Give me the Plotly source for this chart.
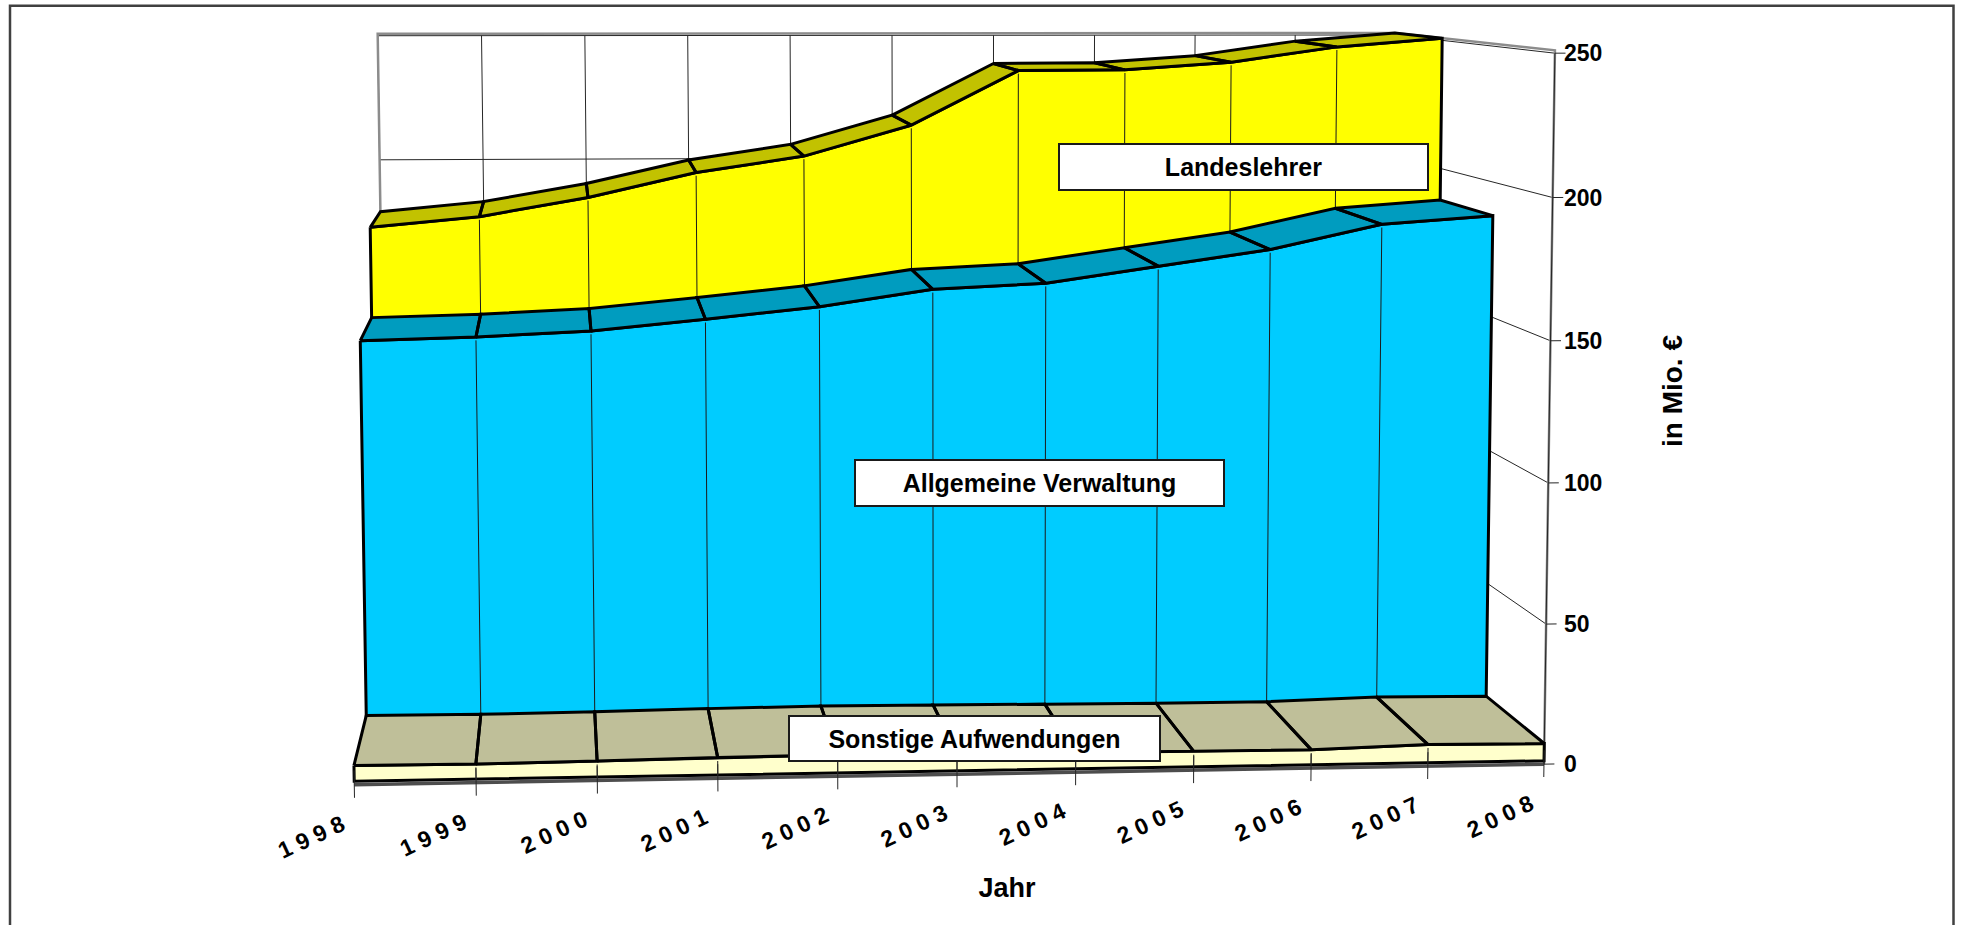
import numpy as np
import plotly.graph_objects as go

# ---- data (Mio. EUR) ----
years = [1998, 1999, 2000, 2001, 2002, 2003, 2004, 2005, 2006, 2007, 2008]
sonstige = [6.7, 6.5, 6.8, 7.3, 7.6, 7.3, 7.0, 6.7, 6.6, 7.7, 7.4]
verwaltung = [144.3, 145.3, 147.2, 151.2, 155.5, 161.6, 163.6, 169.6, 175.5, 184.6, 187.6]
landeslehrer = [179.0, 182.9, 190.1, 199.5, 205.7, 217.5, 238.5, 238.7, 241.6, 247.5, 250.8]
value_ticks = [0, 50, 100, 150, 200, 250]

# ---- 3-D view of the chart box: (year index, depth row, value) -> page pixels ----
CAMERA = np.array([
    [1.2311535e+02, 3.5799904e+01, -7.3549680e-02, 3.5427243e+02],
    [4.4771031e-03, -3.8727393e+00, -2.9243144e+00, 7.8463067e+02],
    [2.6847161e-03, 6.4211055e-02, -7.6133452e-05, 1.0],
])
W, H = 1961, 925
ML, MR, MT, MB = 60, 7, 0, 75


def to_x(px):
    return 1998 + (px - 353) / 119.05


def to_y(py):
    return (764 - py) / 2.84


def project(i, d, v):
    h = CAMERA @ np.array([i, d, v, 1.0])
    return to_x(h[0] / h[2]), to_y(h[1] / h[2])


def path(points):
    xs, ys = [], []
    for p in points:
        if p is None:
            xs.append(None)
            ys.append(None)
        else:
            x, y = project(*p)
            xs.append(x)
            ys.append(y)
    return xs, ys


fig = go.Figure()
N = len(years)
LAST = N - 1


def line(points, color, width, name=""):
    xs, ys = path(points)
    fig.add_trace(go.Scatter(x=xs, y=ys, mode="lines", line=dict(color=color, width=width),
                             hoverinfo="skip", showlegend=False, name=name))


def poly(points, fill, width, name=""):
    xs, ys = path(points)
    fig.add_trace(go.Scatter(x=xs, y=ys, mode="lines", fill="toself", fillcolor=fill,
                             line=dict(color="black", width=width), hoverinfo="skip",
                             showlegend=False, name=name))


# walls
GRID = "#262626"
pts = []
for i in range(N):
    pts += [(i, 3, 0), (i, 3, 250), None]
for v in value_ticks[1:]:
    pts += [(0, 3, v), (LAST, 3, v), (LAST, 0, v), None]
line(pts, GRID, 1, "Gitternetz")
line([(0, 3, 0), (0, 3, 250.8), (LAST, 3, 250.8), (LAST, 0, 251), (LAST, 0, 0)], "#8c8c8c", 2.5, "Wand")
line([(LAST, 0, 0), (LAST, 0, 250)], "#262626", 1, "Achse")
line([(0, 0, 0), (LAST, 0, 0)], "#4d4d4d", 3.5, "Boden")


def series(values, d, face, top, name, base):
    # top band, made of one quad per year step
    pts = []
    for i in range(N - 1):
        pts += [(i, d, values[i]), (i + 1, d, values[i + 1]), (i + 1, d + 1, values[i + 1]),
                (i, d + 1, values[i]), (i, d, values[i]), None]
    front = [(i, d, values[i]) for i in range(N)] + [(LAST, d, base), (0, d, base), (0, d, values[0])]
    poly(front, face, 3, name)
    poly(pts, top, 3, name + " Oberseite")
    drops = []
    for i in range(1, N - 1):
        drops += [(i, d, values[i] - 1.2), (i, d, base), None]
    line(drops, "#1a1a1a", 1, name + " Jahre")


series(landeslehrer, 2, "#ffff00", "#c2c200", "Landeslehrer", 0)
series(verwaltung, 1, "#00ccff", "#009cbf", "Allgemeine Verwaltung", 0)
series(sonstige, 0, "#ffffcc", "#bfbf99", "Sonstige Aufwendungen", 1.2)

# ticks along the floor and on the value axis
pts = []
for i in range(N):
    pts += [(i, 0, 5.0), (i, 0, -4.6), None]
line(pts, "#262626", 1, "Jahresmarken")
pts = []
for v in value_ticks:
    pts += [(LAST, 0, v), (LAST + 0.09, 0, v), None]
line(pts, "#262626", 1, "Wertmarken")

FONT = "Liberation Sans"
annotations = []
for i, yr in enumerate(years):
    x, y = project(i, 0, 0)
    annotations.append(dict(x=x, y=y, xref="x", yref="y", text=" ".join(str(yr)), showarrow=False,
                            textangle=-25, xshift=-43, yshift=-52,
                            font=dict(family=FONT, size=23, color="black", weight=700)))

for text, left, right, top, bottom in [
    ("Landeslehrer", 1059, 1428, 144, 190),
    ("Allgemeine Verwaltung", 855, 1224, 460, 506),
    ("Sonstige Aufwendungen", 789, 1160, 716, 761),
]:
    annotations.append(dict(x=to_x((left + right) / 2), y=to_y((top + bottom) / 2), xref="x", yref="y",
                            text=text, showarrow=False, bgcolor="white", bordercolor="#1a1a1a",
                            borderwidth=2, width=right - left - 4, height=bottom - top - 4,
                            align="center", valign="middle",
                            font=dict(family=FONT, size=25, color="black", weight=700)))

annotations.append(dict(x=to_x(1672), y=to_y(391), xref="x", yref="y", text="in Mio. €", textangle=-90,
                        showarrow=False, font=dict(family=FONT, size=28, color="black", weight=700)))

plot_w = W - ML - MR
plot_h = H - MT - MB
axis_px = 1563
fig.update_layout(
    width=W, height=H, margin=dict(l=ML, r=MR, t=MT, b=MB, pad=0, autoexpand=False),
    paper_bgcolor="white", plot_bgcolor="white", showlegend=False, annotations=annotations,
    font=dict(family=FONT, color="black"),
    xaxis=dict(range=[to_x(ML), to_x(W - MR)], showgrid=False, zeroline=False, showline=False,
               ticks="", showticklabels=False, fixedrange=True,
               title=dict(text="Jahr", standoff=28, font=dict(family=FONT, size=27, color="black", weight=700))),
    yaxis=dict(range=[to_y(H - MB), to_y(MT)], anchor="free", position=(axis_px - ML) / plot_w, side="right",
               tickmode="array", tickvals=[project(LAST, 0, v)[1] for v in value_ticks],
               ticktext=[str(v) for v in value_ticks], showgrid=False, zeroline=False, showline=False,
               ticks="", fixedrange=True,
               tickfont=dict(family=FONT, size=23, color="black", weight=700)),
    shapes=[dict(type="rect", xref="paper", yref="paper",
                 x0=(10 - ML) / plot_w, x1=(1953.5 - ML) / plot_w,
                 y0=(H - MB - 960) / plot_h, y1=(H - MB - 5.7) / plot_h,
                 line=dict(color="#404040", width=2.5), layer="below")],
)
fig.write_html("out.html", post_script="document.body.style.margin='0';document.body.style.overflow='hidden';",
               config=dict(displayModeBar=False))
